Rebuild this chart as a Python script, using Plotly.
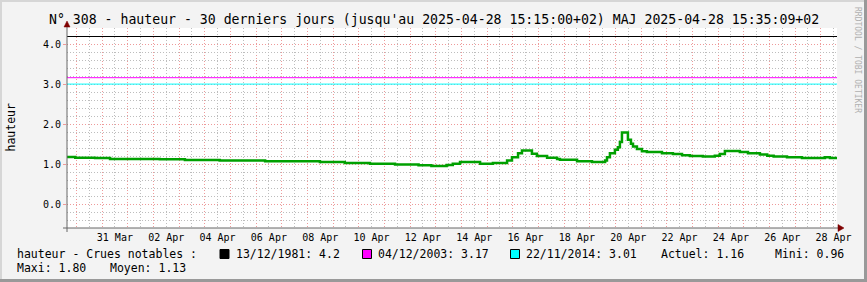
import plotly.graph_objects as go

# ---------------- data ----------------
times = [
    "2025-03-29 15:15", "2025-03-29 23:00", "2025-03-30 17:30", "2025-03-31 07:30",
    "2025-04-02 06:00", "2025-04-03 05:30", "2025-04-04 14:00", "2025-04-06 08:30",
    "2025-04-08 11:45", "2025-04-09 11:00", "2025-04-10 10:30", "2025-04-11 10:00",
    "2025-04-12 08:00", "2025-04-12 20:00", "2025-04-13 10:15", "2025-04-13 16:00",
    "2025-04-13 22:45", "2025-04-14 17:30", "2025-04-15 05:30", "2025-04-15 18:45",
    "2025-04-15 23:20", "2025-04-16 05:00", "2025-04-16 08:40", "2025-04-16 18:00",
    "2025-04-16 22:40", "2025-04-17 08:10", "2025-04-17 17:30", "2025-04-17 20:10",
    "2025-04-18 12:10", "2025-04-19 02:10", "2025-04-19 14:25", "2025-04-19 16:10",
    "2025-04-19 18:55", "2025-04-19 23:35", "2025-04-20 02:20", "2025-04-20 04:15",
    "2025-04-20 06:10", "2025-04-20 11:45", "2025-04-20 14:35", "2025-04-20 16:30",
    "2025-04-20 20:10", "2025-04-21 00:50", "2025-04-21 05:30", "2025-04-21 19:35",
    "2025-04-22 05:50", "2025-04-22 14:20", "2025-04-22 21:50", "2025-04-23 09:50",
    "2025-04-23 21:00", "2025-04-24 01:40", "2025-04-24 06:25", "2025-04-24 20:25",
    "2025-04-25 04:00", "2025-04-25 15:10", "2025-04-25 22:00", "2025-04-26 04:00",
    "2025-04-26 16:30", "2025-04-27 06:30", "2025-04-28 04:00", "2025-04-28 08:40",
    "2025-04-28 15:15",
]
hauteur = [
    1.19, 1.17, 1.16, 1.14,
    1.13, 1.11, 1.10, 1.08,
    1.06, 1.04, 1.02, 1.00,
    0.98, 0.96, 0.99, 1.02,
    1.06, 1.02, 1.04, 1.10,
    1.18, 1.28, 1.35, 1.27,
    1.21, 1.17, 1.14, 1.12,
    1.08, 1.06, 1.10, 1.18,
    1.28, 1.37, 1.43, 1.56,
    1.80, 1.62, 1.52, 1.45,
    1.39, 1.33, 1.31, 1.28,
    1.26, 1.23, 1.21, 1.20,
    1.22, 1.26, 1.34, 1.31,
    1.28, 1.25, 1.22, 1.20,
    1.18, 1.16, 1.18, 1.16,
    1.16,
]

crue_dates = ["13/12/1981", "04/12/2003", "22/11/2014"]
crue_values = [4.2, 3.17, 3.01]
crue_colors = ["#000000", "#FF00FF", "#00FFFF"]

stat_actuel = "1.16"
stat_mini = "0.96"
stat_maxi = "1.80"
stat_moyen = "1.13"

start_time = "2025-03-29 15:15"
end_time = "2025-04-28 15:15"

x_label_vals = [
    "2025-03-31 12:00", "2025-04-02 12:00", "2025-04-04 12:00", "2025-04-06 12:00",
    "2025-04-08 12:00", "2025-04-10 12:00", "2025-04-12 12:00", "2025-04-14 12:00",
    "2025-04-16 12:00", "2025-04-18 12:00", "2025-04-20 12:00", "2025-04-22 12:00",
    "2025-04-24 12:00", "2025-04-26 12:00", "2025-04-28 12:00",
]
x_label_text = [
    "31 Mar", "02 Apr", "04 Apr", "06 Apr", "08 Apr", "10 Apr", "12 Apr", "14 Apr",
    "16 Apr", "18 Apr", "20 Apr", "22 Apr", "24 Apr", "26 Apr", "28 Apr",
]
x_minor_vals = [
    "2025-03-29 12:00", "2025-03-30 12:00", "2025-03-31 12:00", "2025-04-01 12:00",
    "2025-04-02 12:00", "2025-04-03 12:00", "2025-04-04 12:00", "2025-04-05 12:00",
    "2025-04-06 12:00", "2025-04-07 12:00", "2025-04-08 12:00", "2025-04-09 12:00",
    "2025-04-10 12:00", "2025-04-11 12:00", "2025-04-12 12:00", "2025-04-13 12:00",
    "2025-04-14 12:00", "2025-04-15 12:00", "2025-04-16 12:00", "2025-04-17 12:00",
    "2025-04-18 12:00", "2025-04-19 12:00", "2025-04-20 12:00", "2025-04-21 12:00",
    "2025-04-22 12:00", "2025-04-23 12:00", "2025-04-24 12:00", "2025-04-25 12:00",
    "2025-04-26 12:00", "2025-04-27 12:00", "2025-04-28 12:00",
]
y_tick_vals = [0, 1, 2, 3, 4]
y_tick_text = ["0.0", "1.0", "2.0", "3.0", "4.0"]
y_minor_vals = [-0.4, -0.2, 0.2, 0.4, 0.6, 0.8, 1.2, 1.4, 1.6, 1.8,
                2.2, 2.4, 2.6, 2.8, 3.2, 3.4, 3.6, 3.8, 4.2, 4.4]
y_range = [-0.5875, 4.4125]

title_text = ("N° 308 - hauteur - 30 derniers jours (jusqu'au 2025-04-28 15:15:00+02) "
              "MAJ 2025-04-28 15:35:09+02")

# ---------------- style ----------------
FONT = "DejaVu Sans Mono"
MGRID = "#EE9A9A"
GRID = "#BDBDBD"
DASH = "1px,2px"
AXIS = "#666666"
ARROW = "#7F0000"

W, H = 867, 282
L, R, T, B = 67, 30, 28, 54
PW, PH = W - L - R, H - T - B


def px(xpix):
    return (xpix - L) / PW


def py(ypix):
    return (H - B - ypix) / PH


fig = go.Figure()

for v, c in zip(crue_values, crue_colors):
    fig.add_trace(go.Scatter(x=[start_time, end_time], y=[v, v], mode="lines",
                             line=dict(color=c, width=1), hoverinfo="skip"))

fig.add_trace(go.Scatter(x=times, y=hauteur, mode="lines",
                         line=dict(color="#00A000", width=2.5, shape="hv"),
                         hoverinfo="skip"))

# invisible traces carrying the minor-grid / label axes
fig.add_trace(go.Scatter(x=[start_time, end_time], y=[None, None], xaxis="x2", yaxis="y2",
                         mode="lines", line=dict(width=0), hoverinfo="skip"))

fig.update_layout(
    width=W, height=H,
    margin=dict(l=L, r=R, t=T, b=B, pad=0),
    paper_bgcolor="#F3F3F3", plot_bgcolor="#FFFFFF",
    showlegend=False,
    font=dict(family=FONT, size=10, color="#000000"),
    # x2 / y2: minor gray grid + x labels (drawn first, underneath)
    xaxis2=dict(type="date", overlaying="x", anchor="y", side="bottom",
                range=[start_time, end_time],
                tickmode="array", tickvals=x_label_vals, ticktext=x_label_text,
                showgrid=False, ticks="", zeroline=False, showline=False,
                tickfont=dict(family=FONT, size=10), ticklabelstandoff=2,
                minor=dict(tickmode="array", tickvals=x_minor_vals, showgrid=True,
                           gridcolor=GRID, griddash=DASH, gridwidth=1)),
    yaxis2=dict(range=y_range, overlaying="y", side="right", anchor="x",
                tickmode="array", tickvals=y_minor_vals, showticklabels=False,
                showgrid=True, gridcolor=GRID, griddash=DASH, gridwidth=1,
                zeroline=False, showline=False, ticks=""),
    xaxis=dict(type="date", range=[start_time, end_time],
               tickmode="linear", tick0="2025-03-31 00:00", dtick=86400000,
               showgrid=True, gridcolor=MGRID, griddash=DASH, gridwidth=1,
               showticklabels=False, ticks="", zeroline=False, showline=False),
    yaxis=dict(range=y_range, tickmode="array", tickvals=y_tick_vals,
               ticktext=y_tick_text, showgrid=True, gridcolor=MGRID, griddash=DASH,
               gridwidth=1, zeroline=False, showline=False,
               ticks="outside", ticklen=3, tickcolor=MGRID,
               tickfont=dict(family=FONT, size=10)),
)

shapes = []
# frame shading
shapes.append(dict(type="rect", xref="paper", yref="paper", x0=px(0), x1=px(W), y0=py(0), y1=py(2),
                   fillcolor="#D6D6D6", line=dict(width=0), layer="above"))
shapes.append(dict(type="rect", xref="paper", yref="paper", x0=px(0), x1=px(2), y0=py(0), y1=py(H),
                   fillcolor="#D6D6D6", line=dict(width=0), layer="above"))
shapes.append(dict(type="rect", xref="paper", yref="paper", x0=px(W - 3), x1=px(W), y0=py(0), y1=py(H),
                   fillcolor="#999999", line=dict(width=0), layer="above"))
shapes.append(dict(type="rect", xref="paper", yref="paper", x0=px(0), x1=px(W), y0=py(H - 3), y1=py(H),
                   fillcolor="#999999", line=dict(width=0), layer="above"))
# axes
shapes.append(dict(type="line", xref="paper", yref="paper", x0=0, x1=0, y0=py(H - B + 4), y1=py(24),
                   line=dict(color=AXIS, width=1), layer="above"))
shapes.append(dict(type="line", xref="paper", yref="paper", x0=px(L - 4), x1=px(840), y0=0, y1=0,
                   line=dict(color=AXIS, width=1), layer="above"))
# arrows
shapes.append(dict(type="path", xref="paper", yref="paper",
                   path=f"M {px(L - 3)},{py(27)} L {px(L + 3)},{py(27)} L {px(L)},{py(21)} Z",
                   fillcolor=ARROW, line=dict(color=ARROW, width=0.5), layer="above"))
shapes.append(dict(type="path", xref="paper", yref="paper",
                   path=f"M {px(838)},{py(H - B - 3.5)} L {px(838)},{py(H - B + 3.5)} L {px(844)},{py(H - B)} Z",
                   fillcolor=ARROW, line=dict(color=ARROW, width=0.5), layer="above"))
# legend squares
sq_x = [220, 362.5, 510.5]
for xs, c in zip(sq_x, crue_colors):
    shapes.append(dict(type="rect", xref="paper", yref="paper", x0=px(xs), x1=px(xs + 9),
                       y0=py(258.5), y1=py(249.5), fillcolor=c,
                       line=dict(color="#000000", width=1), layer="above"))
fig.update_layout(shapes=shapes)

ann = []
ann.append(dict(text=title_text, xref="paper", yref="paper", x=px(W / 2), y=py(19.5),
                xanchor="center", yanchor="middle", showarrow=False,
                font=dict(family=FONT, size=13.2, color="#000000")))
ann.append(dict(text="hauteur", xref="paper", yref="paper", x=px(10), y=py(127.5),
                xanchor="center", yanchor="middle", showarrow=False, textangle=-90,
                font=dict(family=FONT, size=11.5, color="#000000")))
ann.append(dict(text="RRDTOOL / TOBI OETIKER", xref="paper", yref="paper", x=px(858), y=py(60),
                xanchor="center", yanchor="middle", showarrow=False, textangle=90,
                font=dict(family=FONT, size=8, color="#B0B0B0")))

row1 = [
    (16, "hauteur - Crues notables :"),
    (235.3, f"{crue_dates[0]}: {crue_values[0]}"),
    (377.3, f"{crue_dates[1]}: {crue_values[1]}"),
    (525.3, f"{crue_dates[2]}: {crue_values[2]}"),
    (660, f"Actuel: {stat_actuel}"),
    (774.3, f"Mini: {stat_mini}"),
]
for xs, t in row1:
    ann.append(dict(text=t, xref="paper", yref="paper", x=px(xs), y=py(254),
                    xanchor="left", yanchor="middle", showarrow=False, borderpad=0,
                    font=dict(family=FONT, size=11.5, color="#000000")))
row2 = [(16, f"Maxi: {stat_maxi}"), (109, f"Moyen: {stat_moyen}")]
for xs, t in row2:
    ann.append(dict(text=t, xref="paper", yref="paper", x=px(xs), y=py(268),
                    xanchor="left", yanchor="middle", showarrow=False, borderpad=0,
                    font=dict(family=FONT, size=11.5, color="#000000")))
fig.update_layout(annotations=ann)

fig.write_html("out.html")
